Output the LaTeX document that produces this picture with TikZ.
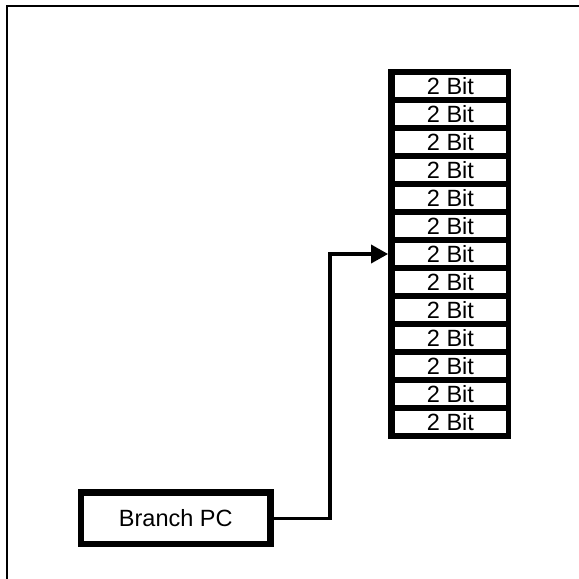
\documentclass[tikz,border=0pt]{standalone}
\usepackage{fontspec}
\setmainfont{Liberation Sans}
\usetikzlibrary{arrows.meta}

\begin{document}
\begin{tikzpicture}[x=1pt, y=-1pt, >={Triangle[length=17pt,width=18pt]},
  tablebox/.style={rectangle, fill=black, minimum width=122.7pt, minimum height=369.4pt, inner sep=0pt},
  cell/.style={rectangle, fill=white, minimum width=111pt, minimum height=22.6pt, inner sep=0pt, font=\fontsize{23.5}{23.5}\selectfont},
  pcbox/.style={rectangle, draw, line width=6.5pt, fill=white, minimum width=189.5pt, minimum height=51.5pt, inner sep=0pt, font=\fontsize{23.5}{23.5}\selectfont}]
  \useasboundingbox (0,0) rectangle (579,579);
  \draw[line width=2pt] (7,579) -- (7,6) -- (579,6);

  \node[tablebox] (bht) at (449.65,254) {};
  \foreach \i in {1,...,13}
    \node[cell] (c\i) at (450.5,{86+28*(\i-1)}) {2 Bit};

  \node[pcbox] (pc) at (175.75,518.25) {Branch PC};
  \coordinate (turn) at (330,254);

  \draw[->, line width=3.5pt] (pc.east) -| (turn) -- (bht.west |- c7);
\end{tikzpicture}
\end{document}
